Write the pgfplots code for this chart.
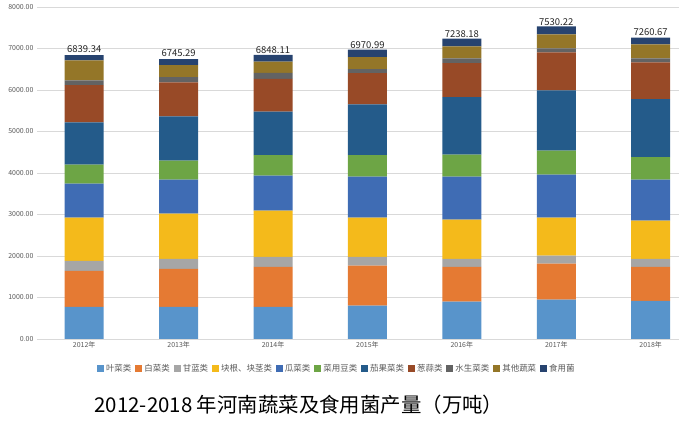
\documentclass[border=0pt]{standalone}
\usepackage{pgfplots}
\pgfplotsset{compat=1.18}
\usepackage{fontspec}
\setmainfont{Noto Sans CJK SC}
\definecolor{c1}{HTML}{5894CB}
\definecolor{c2}{HTML}{E57A33}
\definecolor{c3}{HTML}{A6A6A6}
\definecolor{c4}{HTML}{F4BA1B}
\definecolor{c5}{HTML}{3F6CB4}
\definecolor{c6}{HTML}{6DA545}
\definecolor{c7}{HTML}{245B8A}
\definecolor{c8}{HTML}{984A27}
\definecolor{c9}{HTML}{636363}
\definecolor{c10}{HTML}{947628}
\definecolor{c11}{HTML}{27436F}
\definecolor{tickgray}{HTML}{595959}
\definecolor{gridgray}{HTML}{D9D9D9}
\begin{document}
\begin{tikzpicture}
\useasboundingbox (0,0) rectangle (679bp,425bp);
\begin{axis}[
  at={(37bp,86bp)}, anchor=south west,
  scale only axis, width=642bp, height=332bp,
  ybar stacked, bar width=39bp,
  xmin=-0.5, xmax=6.3, ymin=0, ymax=8000,
  xtick={0,...,6},
  xticklabels={2012年,2013年,2014年,2015年,2016年,2017年,2018年},
  ytick={0,1000,...,8000},
  yticklabel={\pgfmathprintnumber[fixed,precision=2,fixed zerofill,1000 sep={}]{\tick}},
  /pgf/number format/assume math mode=true,
  ymajorgrids, grid style={gridgray, line width=0.8pt},
  axis line style={draw=none},
  axis x line*=bottom,
  x axis line style={draw=gridgray, line width=0.8pt},
  tick style={draw=none},
  tick label style={font=\fontsize{7}{8}\selectfont, text=tickgray},
  xticklabel style={yshift=1bp},
  yticklabel style={xshift=0bp},
  legend columns=-1,
  legend style={at={(0.467,-0.09)}, anchor=center, draw=none,
    font=\fontsize{8.5}{10}\selectfont, text=tickgray,
    /tikz/every even column/.append style={column sep=2bp}},
  legend image code/.code={\fill[#1] (0bp,-3.5bp) rectangle (7bp,3.5bp);},
  every axis plot/.append style={draw=none},
]
\addplot[fill=c1] coordinates {(0,773) (1,773) (2,773) (3,805) (4,902) (5,950) (6,918)};
\addplot[fill=c2] coordinates {(0,869) (1,918) (2,966) (3,966) (4,837) (5,869) (6,821)};
\addplot[fill=c3] coordinates {(0,242) (1,241) (2,242) (3,210) (4,193) (5,193) (6,193)};
\addplot[fill=c4] coordinates {(0,1039) (1,1087) (2,1111) (3,942) (4,942) (5,911) (6,918)};
\addplot[fill=c5] coordinates {(0,821) (1,822) (2,845) (3,990) (4,1039) (5,1038) (6,991)};
\addplot[fill=c6] coordinates {(0,459) (1,459) (2,491) (3,515) (4,531) (5,580) (6,539)};
\addplot[fill=c7] coordinates {(0,1014) (1,1062) (2,1049) (3,1224) (4,1385) (5,1449) (6,1401)};
\addplot[fill=c8] coordinates {(0,901) (1,822) (2,789) (3,756) (4,821) (5,918) (6,886)};
\addplot[fill=c9] coordinates {(0,114) (1,128) (2,144) (3,97) (4,113) (5,97) (6,96)};
\addplot[fill=c10] coordinates {(0,483) (1,290) (2,273) (3,290) (4,290) (5,338) (6,338)};
\addplot[fill=c11, point meta=explicit,
  nodes near coords={\pgfmathprintnumber[fixed,precision=2,fixed zerofill,1000 sep={}]{\pgfplotspointmeta}},
  nodes near coords style={font=\fontsize{9.5}{11}\selectfont, text=black!85, anchor=south, yshift=1.5bp},
  ] coordinates {(0,124.34) [6839.34] (1,143.29) [6745.29] (2,165.11) [6848.11] (3,175.99) [6970.99] (4,185.18) [7238.18] (5,187.22) [7530.22] (6,159.67) [7260.67]};
\legend{叶菜类,白菜类,甘蓝类,块根、块茎类,瓜菜类,菜用豆类,茄果菜类,葱蒜类,水生菜类,其他蔬菜,食用菌}
\end{axis}
\node[anchor=center, font=\fontsize{20.5}{22}\selectfont, text=black] at (299bp,20bp) {2012-2018 年河南蔬菜及食用菌产量（万吨）};
\end{tikzpicture}
\end{document}
